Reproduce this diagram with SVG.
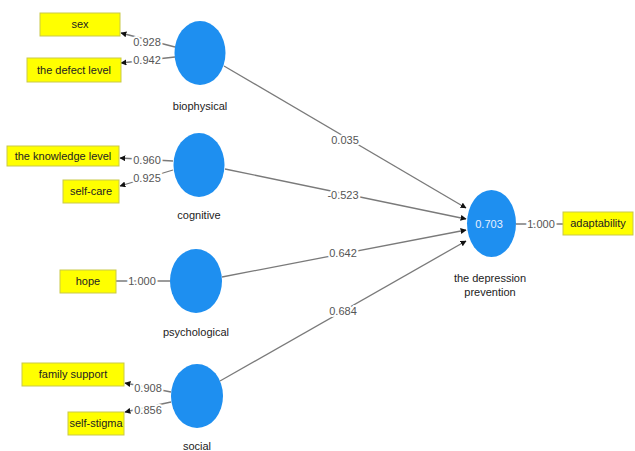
<svg xmlns="http://www.w3.org/2000/svg" width="635" height="451" viewBox="0 0 635 451">
<defs>
<marker id="arr" viewBox="0 0 10 10" refX="9" refY="5" markerWidth="6" markerHeight="6" orient="auto" markerUnits="userSpaceOnUse">
<path d="M0,0 L10,5 L0,10 z" fill="#111"/>
</marker>
<style>
.bg{fill:#fff}
.c{fill:#1e8ff0}
.b{fill:#ffff00;stroke:#c9c94a;stroke-width:1}
.t{font-family:"Liberation Sans",Arial,sans-serif;font-size:11px;fill:#222;text-anchor:middle;dominant-baseline:central}
.n{font-family:"Liberation Sans",Arial,sans-serif;font-size:11px;fill:#555;text-anchor:middle;dominant-baseline:central;stroke:#fff;stroke-width:4;paint-order:stroke}
.w{font-family:"Liberation Sans",Arial,sans-serif;font-size:11px;fill:#e6f0ff;text-anchor:middle;dominant-baseline:central}
.l{stroke:#7a7a7a;stroke-width:1.3;fill:none}
.a{marker-end:url(#arr)}
</style>
</defs>
<rect class="bg" x="0" y="0" width="635" height="451"/>
<g id="connectors">
<line class="l a" x1="175" y1="47" x2="121" y2="33"/>
<line class="l a" x1="175" y1="57" x2="121" y2="63"/>
<line class="l a" x1="173" y1="161" x2="120" y2="158"/>
<line class="l a" x1="173" y1="170" x2="120" y2="186"/>
<line class="l" x1="116" y1="281" x2="170" y2="281"/>
<line class="l a" x1="171" y1="392" x2="125" y2="383"/>
<line class="l a" x1="171" y1="402" x2="125" y2="412"/>
<line class="l" x1="516" y1="224" x2="563" y2="224"/>
<line class="l a" x1="224" y1="66" x2="466" y2="208"/>
<line class="l a" x1="225" y1="169" x2="466" y2="219"/>
<line class="l a" x1="222" y1="277" x2="466" y2="230"/>
<line class="l a" x1="220" y1="381" x2="466" y2="241"/>
<text class="n" x="147" y="42">0.928</text>
<text class="n" x="147" y="60">0.942</text>
<text class="n" x="147" y="160">0.960</text>
<text class="n" x="147" y="178">0.925</text>
<text class="n" x="142" y="281">1.000</text>
<text class="n" x="148" y="388">0.908</text>
<text class="n" x="148" y="410">0.856</text>
<text class="n" x="541" y="224">1.000</text>
<text class="n" x="345" y="140">0.035</text>
<text class="n" x="343" y="195">-0.523</text>
<text class="n" x="343" y="253">0.642</text>
<text class="n" x="343" y="311">0.684</text>
</g>
<g id="sex"><rect class="b" x="40" y="13" width="80" height="23"/><text class="t" x="80" y="24">sex</text></g>
<g id="defect-level"><rect class="b" x="27" y="58" width="94" height="24"/><text class="t" x="74" y="70">the defect level</text></g>
<g id="knowledge-level"><rect class="b" x="7" y="146" width="112" height="20"/><text class="t" x="63" y="156">the knowledge level</text></g>
<g id="self-care"><rect class="b" x="63" y="180" width="56" height="23"/><text class="t" x="91" y="191">self-care</text></g>
<g id="hope"><rect class="b" x="60" y="270" width="56" height="23"/><text class="t" x="88" y="281">hope</text></g>
<g id="family-support"><rect class="b" x="22" y="363" width="102" height="23"/><text class="t" x="73" y="374">family support</text></g>
<g id="self-stigma"><rect class="b" x="68" y="412" width="56" height="23"/><text class="t" x="96" y="423">self-stigma</text></g>
<g id="adaptability"><rect class="b" x="563" y="212" width="70" height="23"/><text class="t" x="598" y="223">adaptability</text></g>
<g id="biophysical"><ellipse class="c" cx="200" cy="53" rx="25.5" ry="32"/><text class="t" x="200" y="106">biophysical</text></g>
<g id="cognitive"><ellipse class="c" cx="199" cy="165" rx="25.5" ry="32"/><text class="t" x="199" y="215">cognitive</text></g>
<g id="psychological"><ellipse class="c" cx="196" cy="281" rx="26" ry="32"/><text class="t" x="196" y="332">psychological</text></g>
<g id="social"><ellipse class="c" cx="197" cy="396" rx="26" ry="32"/><text class="t" x="197" y="446">social</text></g>
<g id="depression-prevention"><ellipse class="c" cx="491.5" cy="223.5" rx="24.5" ry="33.5"/><text class="w" x="489" y="224">0.703</text><text class="t" x="490" y="278">the depression</text><text class="t" x="490" y="292">prevention</text></g>
</svg>
